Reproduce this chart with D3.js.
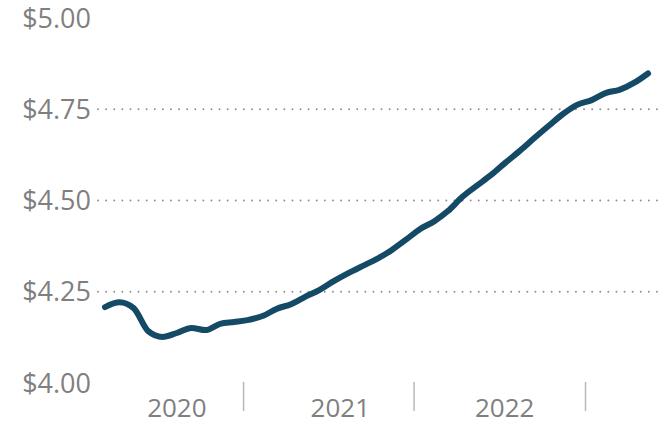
<!DOCTYPE html>
<html>
<head>
<meta charset="utf-8">
<script src="https://cdn.jsdelivr.net/npm/d3@7"></script>
<style>
  html, body { margin: 0; padding: 0; background: #fff; }
  svg { display: block; }
  text { font-family: "Open Sans", "Noto Sans", sans-serif; fill: #7f7f7f; }
</style>
</head>
<body>
<svg id="chart" width="660" height="424"></svg>
<script>
// Monthly average price, March 2020 through May 2023
const startMonth = "2020-03-01";
const prices = [
  4.208, 4.221, 4.205, 4.142, 4.126, 4.137, 4.151, 4.145, 4.162, 4.167,
  4.173, 4.184, 4.203, 4.216, 4.236, 4.255, 4.279, 4.301, 4.321, 4.340,
  4.364, 4.392, 4.422, 4.444, 4.471, 4.510, 4.540, 4.570, 4.603, 4.636,
  4.671, 4.704, 4.737, 4.762, 4.775, 4.795, 4.803, 4.822, 4.848
];

// Value axis
const yTicks = [4.00, 4.25, 4.50, 4.75, 5.00];
const yGrid = [4.25, 4.50, 4.75];

// Year axis: separators between years and the year captions
const yearSeparators = ["2020-12-21", "2021-12-19", "2022-12-19"];
const yearLabels = ["2020", "2021", "2022"];
const yearLabelDates = ["2020-08-01", "2021-07-15", "2022-06-30"];

const parse = d3.timeParse("%Y-%m-%d");
const t0 = parse(startMonth);
const data = prices.map((v, i) => ({ date: d3.timeMonth.offset(t0, i), value: v }));

const svg = d3.select("#chart");

const x = d3.scaleTime()
  .domain(d3.extent(data, d => d.date))
  .range([105, 648]);

const y = d3.scaleLinear()
  .domain([4, 5])
  .range([383, 18]);

// Dotted horizontal gridlines
svg.append("g")
  .selectAll("line")
  .data(yGrid)
  .join("line")
  .attr("x1", 98)
  .attr("x2", 660)
  .attr("y1", d => y(d))
  .attr("y2", d => y(d))
  .attr("stroke", "#8f8f8f")
  .attr("stroke-width", 1.8)
  .attr("stroke-linecap", "round")
  .attr("stroke-dasharray", "0.1 8");

// Value labels
const fmt = d3.format("$.2f");
svg.append("g")
  .selectAll("text")
  .data(yTicks)
  .join("text")
  .attr("x", 91)
  .attr("y", d => y(d))
  .attr("dy", "0.36em")
  .attr("text-anchor", "end")
  .style("font-size", "27px")
  .text(d => fmt(d));

// Year separators
svg.append("g")
  .selectAll("line")
  .data(yearSeparators.map(parse))
  .join("line")
  .attr("x1", d => x(d))
  .attr("x2", d => x(d))
  .attr("y1", 382)
  .attr("y2", 411)
  .attr("stroke", "#b8b8b8")
  .attr("stroke-width", 1.5);

// Year captions
svg.append("g")
  .selectAll("text")
  .data(yearLabels)
  .join("text")
  .attr("x", (d, i) => x(parse(yearLabelDates[i])))
  .attr("y", 417)
  .attr("text-anchor", "middle")
  .style("font-size", "26px")
  .text(d => d);

// Price line
const line = d3.line()
  .x(d => x(d.date))
  .y(d => y(d.value))
  .curve(d3.curveMonotoneX);

svg.append("path")
  .datum(data)
  .attr("d", line)
  .attr("fill", "none")
  .attr("stroke", "#154a66")
  .attr("stroke-width", 6)
  .attr("stroke-linecap", "round")
  .attr("stroke-linejoin", "round");
</script>
</body>
</html>
